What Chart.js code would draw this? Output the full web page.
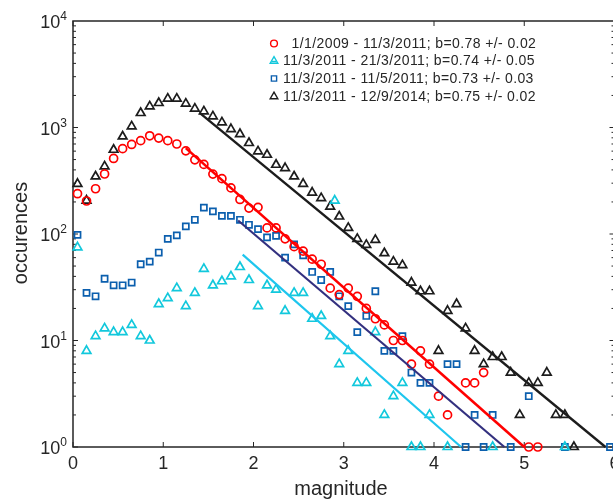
<!DOCTYPE html>
<html lang="en">
<head>
<meta charset="UTF-8">
<title>Magnitude distribution</title>
<script src="https://cdn.jsdelivr.net/npm/chart.js@4.4.0/dist/chart.umd.min.js"></script>
<style>
  html, body { margin: 0; padding: 0; overflow: hidden; background: #fff; }
  canvas { display: block; }
</style>
</head>
<body>
<canvas id="chart" width="640" height="499"></canvas>
<script>
// magnitude bins (centres)
const mags = [0.05,0.15,0.25,0.35,0.45,0.55,0.65,0.75,0.85,0.95,
              1.05,1.15,1.25,1.35,1.45,1.55,1.65,1.75,1.85,1.95,
              2.05,2.15,2.25,2.35,2.45,2.55,2.65,2.75,2.85,2.95,
              3.05,3.15,3.25,3.35,3.45,3.55,3.65,3.75,3.85,3.95,
              4.05,4.15,4.25,4.35,4.45,4.55,4.65,4.75,4.85,4.95,
              5.05,5.15,5.25,5.35,5.45,5.55,5.65,5.75,5.85,5.95];

// occurences per bin (null = empty bin)
const redCounts = [239,204,266,366,512,633,693,752,836,795,
                   752,700,604,497,450,365,331,271,211,175,
                   178,114,114,90,76,69,58,52,31,27,
                   31,26,20,16,14,10,10,6,8,6,
                   3,2,null,4,4,5,null,null,null,null,
                   1,1];
const cyanCounts = [75,8,11,13,12,12,14,11,10,22,
                    25,31,21,28,47,33,36,40,49,37,
                    21,33,30,19,28,28,16,17,11,6,
                    8,4,4,12,2,3,4,1,1,2,
                    null,1,null,null,null,null,1,null,null,null,
                    null,null,null,null,1];
const cyanExtra = [[2.9, 206]];
const blueCounts = [98,28,26,38,33,33,35,52,55,67,
                    90,97,118,136,177,163,148,148,136,122,
                    111,93,96,60,80,63,44,37,44,26,
                    21,12,17,29,8,8,11,5,4,4,
                    null,6,6,1,2,1,2,null,1,null,
                    3,null,null,null,1,null,null,null,null,1];
const blackCounts = [296,206,347,431,618,824,1024,1368,1578,1698,
                     1866,1866,1674,1502,1417,1271,1116,967,868,715,
                     596,555,447,416,347,296,245,217,181,146,
                     114,90,79,88,66,55,51,35,29,29,
                     8,19,22,13,8,6,7,7,5,2,
                     4,4,5,2,2,1];

// fitted Gutenberg-Richter lines: [start, end]
const redFitM = [1.25, 5.0],   redFitN = [640, 1];
const cyanFitM = [1.88, 4.30], cyanFitN = [64, 1];
const blueFitM = [1.83, 4.78], blueFitN = [134, 1];
const blackFitM = [1.40, 5.90], blackFitN = [1380, 1];

const legendLabels = [
  '  1/1/2009 - 11/3/2011; b=0.78 +/- 0.02',
  '11/3/2011 - 21/3/2011; b=0.74 +/- 0.05',
  '11/3/2011 - 11/5/2011; b=0.73 +/- 0.03',
  '11/3/2011 - 12/9/2014; b=0.75 +/- 0.02'
];
const xTicks = [0, 1, 2, 3, 4, 5, 6];
const yTicks = [1, 10, 100, 1000, 10000];
const yTickExp = ['0', '1', '2', '3', '4'];

const RED = '#ff0000', CYAN = '#12c8dc', BLUE = '#0b5fae', BLACK = '#1c1c1c';
const CYAN_LINE = '#1ec6ee', NAVY_LINE = '#33307f';
const AXIS = '#262626';
const FONT = '"Liberation Sans", Arial, Helvetica, sans-serif';

function toPoints(counts) {
  const pts = [];
  counts.forEach((n, i) => { if (n != null) pts.push({ x: mags[i], y: n }); });
  return pts;
}
function fitPoints(ms, ns) {
  return ms.map((m, i) => ({ x: m, y: ns[i] }));
}

const markerStyles = [
  { pointStyle: 'circle', radius: 4.0, color: RED },
  { pointStyle: 'triangle', radius: 5.0, color: CYAN },
  { pointStyle: 'rect', radius: 4.3, color: BLUE },
  { pointStyle: 'triangle', radius: 5.0, color: BLACK }
];

function scatterSet(data, st) {
  return {
    type: 'scatter', data: data, order: 2, clip: false,
    pointStyle: st.pointStyle, pointRadius: st.radius, pointHoverRadius: st.radius,
    pointBorderWidth: 1.7, pointBorderColor: st.color,
    pointBackgroundColor: 'rgba(0,0,0,0)', showLine: false
  };
}
function lineSet(data, color, w) {
  return {
    type: 'line', data: data, order: 1, clip: false,
    borderColor: color, borderWidth: w, pointRadius: 0, fill: false, tension: 0
  };
}

const frame = {
  id: 'frame',
  beforeDatasetsDraw(chart) {
    const { ctx, chartArea: a, scales: { x, y } } = chart;
    ctx.save();
    ctx.strokeStyle = AXIS;
    ctx.lineWidth = 1.5;
    ctx.strokeRect(a.left, a.top, a.right - a.left, a.bottom - a.top);
    ctx.lineWidth = 1;
    const seg = (x1, y1, x2, y2) => { ctx.beginPath(); ctx.moveTo(x1, y1); ctx.lineTo(x2, y2); ctx.stroke(); };
    xTicks.forEach(v => {
      const px = x.getPixelForValue(v);
      seg(px, a.bottom, px, a.bottom - 5);
      seg(px, a.top, px, a.top + 5);
    });
    for (let d = 0; d < 4; d++) {
      for (let j = 1; j <= 9; j++) {
        const py = y.getPixelForValue(j * Math.pow(10, d));
        const len = j === 1 ? 5 : 3;
        seg(a.left, py, a.left + len, py);
        seg(a.right, py, a.right - len, py);
      }
    }
    ctx.restore();
  },
  afterDraw(chart) {
    const { ctx, chartArea: a, scales: { x, y } } = chart;
    ctx.save();
    ctx.fillStyle = AXIS;
    // x tick labels
    ctx.font = '18px ' + FONT;
    ctx.textAlign = 'center';
    ctx.textBaseline = 'middle';
    xTicks.forEach(v => ctx.fillText(String(v), x.getPixelForValue(v), a.bottom + 17));
    // y tick labels 10^n
    yTicks.forEach((v, i) => {
      const py = y.getPixelForValue(v);
      ctx.font = '12px ' + FONT;
      const we = ctx.measureText(yTickExp[i]).width;
      ctx.textAlign = 'right';
      ctx.textBaseline = 'alphabetic';
      ctx.fillText(yTickExp[i], a.left - 6, py - 1);
      ctx.font = '18px ' + FONT;
      ctx.fillText('10', a.left - 6 - we, py + 7);
    });
    // axis titles
    ctx.font = '20px ' + FONT;
    ctx.textAlign = 'center';
    ctx.textBaseline = 'middle';
    ctx.fillText('magnitude', 341, 489);
    ctx.translate(21, 233);
    ctx.rotate(-Math.PI / 2);
    ctx.fillText('occurences', 0, 0);
    ctx.restore();

    // legend
    ctx.save();
    const lx = 274, ly = [43.5, 61, 78.5, 96.5];
    ctx.font = '14px ' + FONT;
    if ('letterSpacing' in ctx) ctx.letterSpacing = '0.4px';
    ctx.textAlign = 'left';
    ctx.textBaseline = 'middle';
    legendLabels.forEach((txt, i) => {
      const st = markerStyles[i];
      ctx.strokeStyle = st.color;
      ctx.fillStyle = 'rgba(0,0,0,0)';
      ctx.lineWidth = 1.4;
      Chart.helpers.drawPoint(ctx, { pointStyle: st.pointStyle, radius: st.radius - 0.6, rotation: 0, borderWidth: 1.4 }, lx, ly[i]);
      if (i === 1) {
        ctx.beginPath(); ctx.moveTo(lx - 2, ly[i] + 0.5); ctx.lineTo(lx + 2, ly[i] + 0.5); ctx.stroke();
      }
      ctx.fillStyle = AXIS;
      ctx.fillText(txt, 283, ly[i] + 0.5);
    });
    ctx.restore();
  }
};

const ctx = document.getElementById('chart').getContext('2d');
const cyanPoints = toPoints(cyanCounts).concat(cyanExtra.map(p => ({ x: p[0], y: p[1] })));

new Chart(ctx, {
  type: 'scatter',
  data: {
    datasets: [
      lineSet(fitPoints(redFitM, redFitN), RED, 2.6),
      lineSet(fitPoints(cyanFitM, cyanFitN), CYAN_LINE, 2.2),
      lineSet(fitPoints(blueFitM, blueFitN), NAVY_LINE, 2.2),
      lineSet(fitPoints(blackFitM, blackFitN), BLACK, 2.4),
      scatterSet(toPoints(redCounts), markerStyles[0]),
      scatterSet(cyanPoints, markerStyles[1]),
      scatterSet(toPoints(blueCounts), markerStyles[2]),
      scatterSet(toPoints(blackCounts), markerStyles[3])
    ]
  },
  options: {
    responsive: false,
    animation: false,
    layout: { padding: { left: 73, top: 21, right: 25.5, bottom: 52 } },
    plugins: { legend: { display: false }, tooltip: { enabled: false } },
    scales: {
      x: { type: 'linear', min: 0, max: 6, display: false },
      y: { type: 'logarithmic', min: 1, max: 10000, display: false }
    }
  },
  plugins: [frame]
});
</script>
</body>
</html>
